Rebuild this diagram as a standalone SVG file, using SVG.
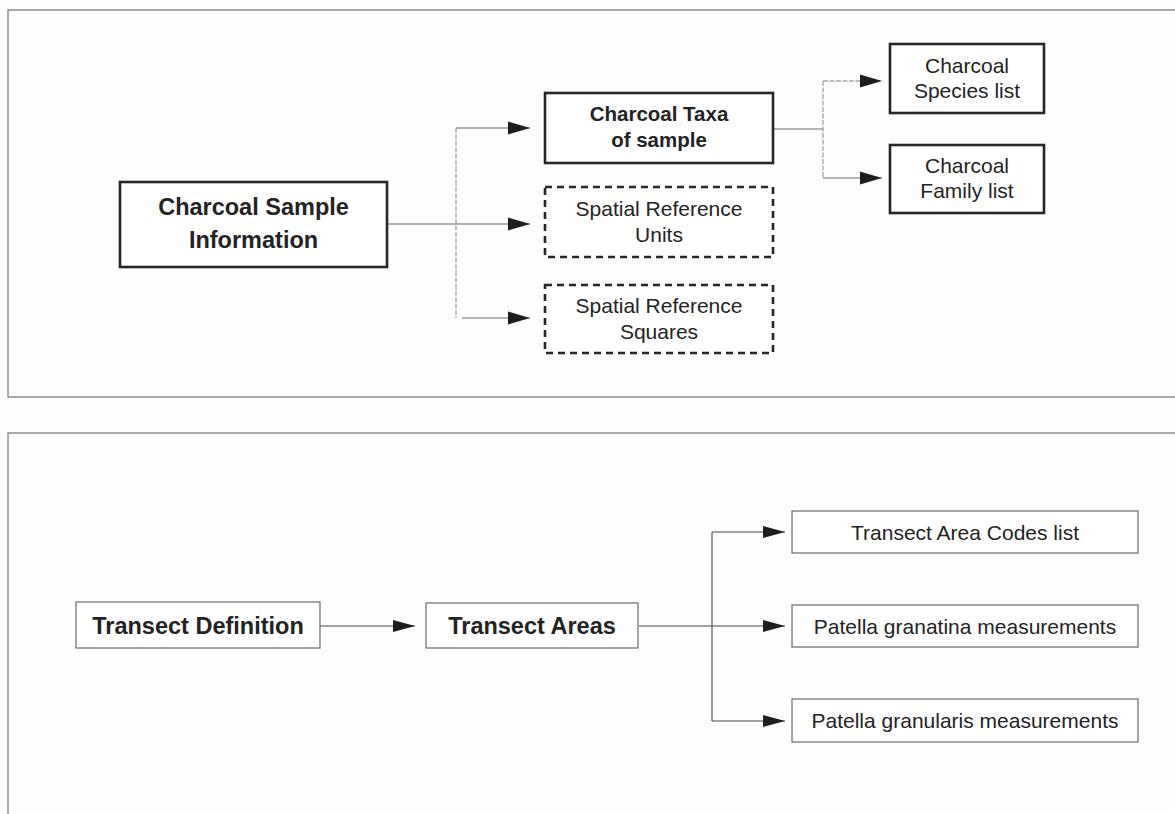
<svg xmlns="http://www.w3.org/2000/svg" width="1175" height="814" viewBox="0 0 1175 814">
  <style>
    .panel { fill: none; stroke: #8c8c8c; stroke-width: 1.4; }
    .heavy { fill: #ffffff; stroke: #262626; stroke-width: 2.6; }
    .dashed { fill: #ffffff; stroke: #262626; stroke-width: 2.6; stroke-dasharray: 7 5; }
    .light { fill: #ffffff; stroke: #6a6a6a; stroke-width: 1.2; }
    .lbl { font-family: "Liberation Sans", Arial, sans-serif; fill: #232323; text-anchor: middle; }
    .b23 { font-size: 23.5px; font-weight: bold; }
    .b20 { font-size: 20.5px; font-weight: bold; }
    .r21 { font-size: 21px; }
    .conn-top { fill: none; stroke: #9a9a9a; stroke-width: 1.6; }
    .trunk-top { fill: none; stroke: #a8a8a8; stroke-width: 1.4; stroke-dasharray: 5 1.5; }
    .conn-bot { fill: none; stroke: #4a4a4a; stroke-width: 1.1; }
  </style>
  <defs>
    <marker id="arrowTop" markerUnits="userSpaceOnUse" markerWidth="23" markerHeight="14" refX="22" refY="7" orient="auto">
      <path d="M0,0.5 L22,7 L0,13.5 z" fill="#1e1e1e"/>
    </marker>
    <marker id="arrowBot" markerUnits="userSpaceOnUse" markerWidth="23" markerHeight="13" refX="22" refY="6.5" orient="auto">
      <path d="M0,0.5 L22,6.5 L0,12.5 z" fill="#1e1e1e"/>
    </marker>
  </defs>

  <rect x="0" y="0" width="1175" height="814" fill="#fdfdfd"/>

  <!-- section frames -->
  <g id="frames">
    <path class="panel" d="M1180,10 H8 V397 H1180"/>
    <path class="panel" d="M1180,433 H8 V820"/>
  </g>

  <!-- connectors -->
  <g id="connectors">
    <!-- charcoal sample information fan-out -->
    <path class="conn-top" d="M387,224 H456"/>
    <path class="trunk-top" d="M456,128 V318"/>
    <path class="conn-top" d="M456,128 H530" marker-end="url(#arrowTop)"/>
    <path class="conn-top" d="M456,224 H530" marker-end="url(#arrowTop)"/>
    <path class="conn-top" d="M462,318 H530" marker-end="url(#arrowTop)"/>
    <!-- charcoal taxa fan-out -->
    <path class="conn-top" d="M773,129 H823"/>
    <path class="trunk-top" d="M823,81 V178"/>
    <path class="trunk-top" d="M823,81 H882" marker-end="url(#arrowTop)"/>
    <path class="conn-top" d="M823,178 H882" marker-end="url(#arrowTop)"/>
    <!-- transect chain -->
    <path class="conn-bot" d="M320,626 H415" marker-end="url(#arrowBot)"/>
    <path class="conn-bot" d="M639,626 H785" marker-end="url(#arrowBot)"/>
    <path class="conn-bot" d="M712,532 V721"/>
    <path class="conn-bot" d="M712,532 H785" marker-end="url(#arrowBot)"/>
    <path class="conn-bot" d="M712,721 H785" marker-end="url(#arrowBot)"/>
  </g>

  <g id="charcoal-sample-information">
    <rect class="heavy" x="120" y="182" width="267" height="85"/>
    <text class="lbl b23" x="253.5" y="215">Charcoal Sample</text>
    <text class="lbl b23" x="253.5" y="248">Information</text>
  </g>

  <g id="charcoal-taxa">
    <rect class="heavy" x="545" y="93" width="228" height="70"/>
    <text class="lbl b20" x="659" y="121">Charcoal Taxa</text>
    <text class="lbl b20" x="659" y="147">of sample</text>
  </g>

  <g id="spatial-reference-units">
    <rect class="dashed" x="545" y="187" width="228" height="70"/>
    <text class="lbl r21" x="659" y="216">Spatial Reference</text>
    <text class="lbl r21" x="659" y="242">Units</text>
  </g>

  <g id="spatial-reference-squares">
    <rect class="dashed" x="545" y="285" width="228" height="68"/>
    <text class="lbl r21" x="659" y="313">Spatial Reference</text>
    <text class="lbl r21" x="659" y="339">Squares</text>
  </g>

  <g id="charcoal-species-list">
    <rect class="heavy" x="890" y="44" width="154" height="69"/>
    <text class="lbl r21" x="967" y="73">Charcoal</text>
    <text class="lbl r21" x="967" y="98">Species list</text>
  </g>

  <g id="charcoal-family-list">
    <rect class="heavy" x="890" y="145" width="154" height="68"/>
    <text class="lbl r21" x="967" y="173">Charcoal</text>
    <text class="lbl r21" x="967" y="198">Family list</text>
  </g>

  <g id="transect-definition">
    <rect class="light" x="76" y="602" width="244" height="46"/>
    <text class="lbl b23" x="198" y="634">Transect Definition</text>
  </g>

  <g id="transect-areas">
    <rect class="light" x="426" y="603" width="212" height="45"/>
    <text class="lbl b23" x="532" y="634">Transect Areas</text>
  </g>

  <g id="transect-area-codes-list">
    <rect class="light" x="792" y="511" width="346" height="42"/>
    <text class="lbl r21" x="965" y="540">Transect Area Codes list</text>
  </g>

  <g id="patella-granatina">
    <rect class="light" x="792" y="605" width="346" height="42"/>
    <text class="lbl r21" x="965" y="634">Patella granatina measurements</text>
  </g>

  <g id="patella-granularis">
    <rect class="light" x="792" y="699" width="346" height="43"/>
    <text class="lbl r21" x="965" y="728">Patella granularis measurements</text>
  </g>
</svg>
